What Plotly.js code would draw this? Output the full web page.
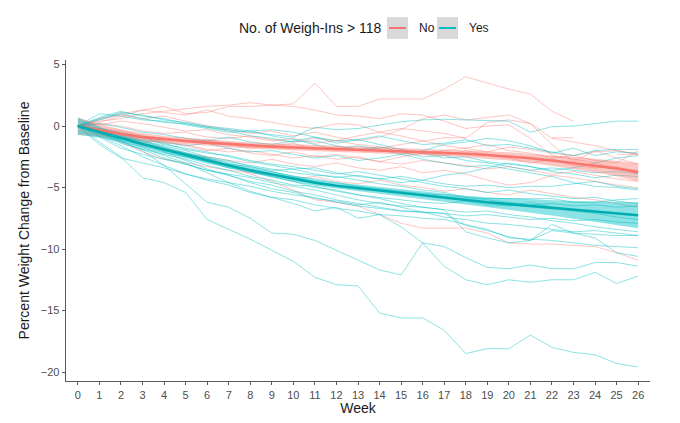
<!DOCTYPE html>
<html><head><meta charset="utf-8">
<script src="https://cdn.plot.ly/plotly-3.0.1.min.js"></script>
<style>html,body{margin:0;padding:0;background:#fff;}#chart{width:680px;height:423px;}</style>
</head><body><div id="chart"></div>
<script>
// ---- data ----
const weeks = [0,1,2,3,4,5,6,7,8,9,10,11,12,13,14,15,16,17,18,19,20,21,22,23,24,25,26];
const weekLabels = ["0","1","2","3","4","5","6","7","8","9","10","11","12","13","14","15","16","17","18","19","20","21","22","23","24","25","26"];

// participants with <= 118 weigh-ins ("No")
const no01 = [0,0.3,0.8,1.3,1.6,1.0,1.1,1.6,1.6,1.7,1.8,3.5,1.6,1.6,2.2,2.2,2.2,3.0,4.0,3.5,3.0,2.6,1.2,0.4,null,null,null];
const no02 = [0,0.4,0.6,1.0,1.2,1.4,1.6,1.7,1.9,1.7,1.6,1.3,0.9,0.8,0.6,1.0,0.9,0.4,-0.2,0.0,0.1,-1.0,-2.4,-2.7,-3.0,-3.4,-3.6];
const no03 = [0,0.5,0.9,0.6,0.8,0.4,0.0,-0.3,-0.6,-0.4,-0.8,-0.5,-0.9,-1.2,-0.9,-0.3,0.6,0.9,0.5,0.7,0.9,0.2,-1.0,-1.3,-1.6,-2.0,-2.3];
const no04 = [0,-0.2,-0.4,-0.8,-1.0,-1.3,-1.1,-1.5,-1.8,-1.6,-1.4,-1.9,-1.7,-2.0,-1.8,-1.5,-1.2,-0.95,-0.95,null,null,null,-0.95,-0.95,null,-2.3,-2.3];
const no05 = [0,-0.3,-0.8,-1.2,-1.8,-2.2,-2.6,-3.2,-3.9,-4.5,-5.2,-6.0,-6.2,-6.5,-7.2,-7.9,-8.3,-8.3,-8.3,-8.7,-9.5,-9.6,-9.6,-9.7,-9.8,-10.3,-10.9];
const no06 = [0,-0.5,-1.0,-1.6,-1.9,-2.3,-2.5,-2.8,-3.0,-2.7,-3.1,-3.3,-3.0,-3.4,-3.6,-3.3,-3.8,-3.6,-3.9,-4.4,-4.8,-4.6,-4.0,-4.2,-4.5,-4.8,-5.0];
const no07 = [0,0.2,0.0,-0.4,-0.6,-0.5,-0.9,-1.0,-0.8,-1.1,-1.3,-1.0,-1.2,-0.8,-0.5,-0.2,-0.4,-0.6,-1.0,0.3,0.5,0.2,-1.5,-2.9,-2.0,-2.6,-3.1];
const no08 = [0,-0.4,-0.9,-1.3,-1.2,-1.6,-2.0,-1.8,-2.2,-2.4,-2.1,-2.5,-2.3,-2.6,-2.9,-2.5,-2.2,-2.4,-2.0,-2.3,-2.6,-3.0,-2.7,-3.2,-3.4,-3.3,-3.8];
const no09 = [0,0.6,1.0,1.3,1.1,0.9,1.3,0.8,0.6,0.3,0.0,-0.2,0.2,0.1,-0.5,-0.8,-1.2,-1.6,-1.8,-1.5,-2.0,-2.2,-2.6,-2.4,-2.8,-3.0,-2.0];
const no10 = [0,-0.6,-1.3,-2.1,-2.7,-3.0,-3.3,-3.6,-3.8,-4.0,-4.3,-4.1,-4.5,-4.7,-4.4,-4.8,-5.0,-5.3,-5.1,-5.4,-5.6,-5.2,-5.5,-5.8,-6.0,-6.3,-6.6];
const no11 = [0,-0.2,-0.6,-0.9,-1.4,-1.5,-1.9,-2.1,-2.0,-2.3,-2.6,-2.4,-2.7,-2.5,-2.9,-3.1,-2.8,-3.0,-3.2,-3.5,-3.3,-3.6,-3.9,-3.7,-4.0,-4.3,-4.5];
const no12 = [0,0.1,0.4,0.2,-0.1,-0.4,-0.3,-0.7,-0.9,-1.2,-1.0,-1.4,-1.2,-1.5,-1.7,-1.9,-2.2,-2.0,-1.8,-2.1,-1.7,-1.9,-2.2,-2.4,-2.1,-2.0,-2.3];

// participants with > 118 weigh-ins ("Yes")
const yes01 = [0,-1.3,-2.5,-4.2,-4.6,-5.4,-7.6,-8.4,-9.2,-10.1,-11.0,-12.3,-12.9,-13.0,-15.2,-15.6,-15.6,-16.6,-18.5,-18.1,-18.1,-17.0,-18.0,-18.4,-18.6,-19.3,-19.6];
const yes02 = [0,-0.5,-1.2,-2.0,-3.2,-4.7,-6.2,-6.6,-7.5,-8.7,-8.8,-9.3,-10.1,-10.9,-11.7,-12.1,-9.5,-11.4,-12.5,-12.9,-12.5,-12.7,-12.5,-12.5,-11.9,-12.8,-12.2];
const yes03 = [0,-0.4,-1.0,-1.7,-2.4,-3.0,-3.8,-4.6,-5.3,-5.8,-6.3,-6.9,-6.6,-7.5,-7.2,-8.2,-9.5,-9.8,-10.7,-11.5,-11.6,-11.3,-11.6,-11.6,-11.1,-11.1,-11.4];
const yes04 = [0,0.5,1.0,0.6,0.3,0.2,-0.1,-0.3,-0.5,-0.7,-0.9,-0.1,-0.3,-0.2,0.1,0.35,0.5,0.55,0.5,0.45,0.4,-0.5,-0.05,0.0,0.2,0.4,0.4];
const yes05 = [0,-0.3,-0.9,-1.5,-2.0,-2.4,-2.9,-3.4,-3.7,-4.1,-4.5,-5.0,-5.2,-5.6,-5.9,-6.3,-6.6,-6.8,-8.6,-9.1,-9.5,-9.3,-8.0,-8.7,-9.1,-10.3,-10.6];
const yes06 = [0,-0.6,-1.3,-1.9,-2.6,-3.1,-3.6,-4.0,-4.5,-4.8,-5.3,-5.6,-6.0,-6.3,-6.6,-6.9,-7.0,-7.1,-8.1,-8.5,-9.0,-9.3,-8.5,-8.7,-8.8,-8.9,-8.9];
const yes07 = [0,-0.8,-1.6,-2.5,-3.2,-3.9,-4.4,-4.8,-5.4,-5.8,-6.0,-6.4,-6.7,-6.9,-7.2,-7.3,-7.5,-7.6,-8.0,-8.4,-9.1,-9.2,-9.3,-9.5,-9.7,-9.8,-9.9];
const yes08 = [0,-0.4,-0.9,-1.2,-1.6,-2.0,-2.5,-2.8,-3.3,-3.7,-4.1,-4.3,-4.6,-4.9,-5.1,-5.3,-5.5,-5.6,-5.8,-5.9,-5.9,-5.9,-5.9,-6.2,-6.2,-6.0,-5.9];
const yes09 = [0,-0.2,-0.6,-1.0,-1.5,-1.8,-2.1,-2.5,-2.9,-3.2,-3.5,-3.4,-3.8,-4.1,-4.3,-4.6,-4.4,-4.7,-4.9,-4.8,-5.0,-4.9,-4.9,-4.7,-4.5,-4.9,-5.1];
const yes10 = [0,0.2,-0.1,-0.5,-0.7,-1.0,-1.2,-0.9,-1.3,-1.5,-1.2,-0.9,-1.4,-1.1,-0.8,-1.2,-1.5,-1.4,-1.1,-1.6,-1.5,-1.8,-2.1,-2.4,-2.0,-1.9,-1.9];
const yes11 = [0,-0.3,-0.5,-0.9,-1.3,-1.6,-1.4,-1.8,-2.1,-2.0,-2.3,-2.6,-2.4,-2.8,-2.6,-2.3,-2.0,-1.5,-1.3,-1.0,-1.2,-1.6,-2.2,-1.8,-2.4,-2.1,-2.2];
const yes12 = [0,-0.5,-1.2,-1.8,-2.2,-2.5,-2.9,-3.1,-3.3,-3.6,-3.5,-3.9,-4.2,-4.0,-4.3,-4.1,-4.4,-4.0,-3.8,-3.4,-3.0,-3.3,-3.7,-3.9,-4.2,-4.0,-4.1];
const yes13 = [0,0.6,1.1,0.9,0.5,0.3,0.0,-0.2,-0.4,-0.3,-0.5,-0.9,-1.2,-1.1,-1.5,-1.9,-2.2,-2.6,-2.5,-2.9,-3.1,-3.3,-3.6,-3.4,-3.0,-2.6,-2.4];
const yes14 = [0,-0.7,-1.4,-1.9,-2.3,-2.7,-3.2,-3.6,-4.1,-4.4,-4.8,-4.9,-5.3,-5.6,-5.8,-6.0,-6.2,-6.3,-6.1,-6.4,-6.5,-6.2,-6.6,-6.9,-7.1,-7.4,-7.6];
const yes15 = [0,-0.5,-0.9,-1.4,-1.8,-2.2,-2.6,-2.9,-3.2,-3.5,-3.8,-4.0,-4.1,-4.4,-4.7,-4.9,-5.2,-5.4,-5.8,-6.0,-6.2,-6.4,-6.3,-6.5,-6.4,-6.6,-6.5];
const yes16 = [0,-1.5,-2.6,-3.0,-3.4,-3.9,-4.3,-4.6,-4.9,-5.3,-5.6,-5.8,-6.2,-6.5,-6.7,-6.9,-7.0,-7.1,-7.3,-7.2,-7.4,-7.6,-7.5,-7.7,-7.6,-7.8,-7.9];
const yes17 = [0,1.0,0.8,0.5,0.4,0.1,-0.2,-0.5,-0.4,-0.8,-1.1,-1.5,-1.9,-1.6,-1.9,-2.3,-2.7,-3.0,-3.3,-3.2,-3.5,-3.8,-4.1,-4.6,-4.9,-5.0,-5.2];
const yes18 = [0,-0.3,-0.7,-1.1,-1.4,-1.9,-2.2,-2.4,-2.8,-3.1,-3.3,-3.6,-3.9,-3.7,-4.0,-4.3,-4.6,-4.9,-5.1,-5.4,-5.2,-5.5,-5.7,-5.9,-5.8,-6.1,-6.3];
const yes19 = [0,-0.6,-1.1,-1.5,-2.1,-2.8,-3.5,-4.0,-4.6,-5.1,-5.4,-5.9,-6.1,-6.4,-6.2,-6.6,-7.0,-7.4,-7.6,-7.9,-8.0,-8.2,-8.4,-8.6,-8.5,-8.7,-8.9];
const yes20 = [0,0.7,1.2,0.8,0.6,0.2,-0.1,-0.4,-0.8,-1.0,-1.3,-1.2,-1.6,-1.9,-1.7,-2.1,-2.5,-2.4,-2.8,-3.0,-3.3,-3.6,-3.4,-3.6,-3.8,-3.7,-3.9];
const yes21 = [0,-0.9,-1.8,-2.3,-2.7,-3.1,-3.6,-3.9,-4.2,-4.6,-4.9,-5.2,-5.6,-6.0,-6.3,-6.5,-6.6,-6.8,-7.0,-6.9,-7.2,-7.4,-7.7,-7.9,-8.2,-8.4,-8.6];

// smoothed group trends and half-width of their confidence bands
const noSmooth  = [0,-0.35,-0.65,-0.9,-1.08,-1.22,-1.35,-1.47,-1.58,-1.67,-1.74,-1.8,-1.86,-1.92,-1.98,-2.04,-2.1,-2.17,-2.25,-2.35,-2.47,-2.62,-2.8,-3.0,-3.2,-3.45,-3.75];
const noBand    = [0.7,0.5,0.38,0.32,0.28,0.26,0.25,0.25,0.25,0.25,0.25,0.25,0.25,0.25,0.25,0.25,0.26,0.27,0.28,0.3,0.33,0.37,0.42,0.48,0.55,0.64,0.75];
const yesSmooth = [0,-0.5,-1.0,-1.45,-1.9,-2.35,-2.8,-3.2,-3.6,-3.95,-4.3,-4.6,-4.85,-5.05,-5.25,-5.45,-5.65,-5.85,-6.05,-6.2,-6.35,-6.5,-6.65,-6.8,-6.95,-7.1,-7.25];
const yesBand   = [0.7,0.45,0.32,0.27,0.25,0.24,0.24,0.24,0.24,0.24,0.25,0.25,0.26,0.27,0.28,0.3,0.32,0.35,0.38,0.42,0.47,0.54,0.62,0.71,0.81,0.93,1.05];

const groupNames = ["No", "Yes"];
const legendTitle = "No. of Weigh-Ins > 118";

const noLines = [no01,no02,no03,no04,no05,no06,no07,no08,no09,no10,no11,no12];
const yesLines = [yes01,yes02,yes03,yes04,yes05,yes06,yes07,yes08,yes09,yes10,yes11,yes12,yes13,yes14,yes15,yes16,yes17,yes18,yes19,yes20,yes21];

// ---- styles ----
const RED = "#F8766D", TEAL = "#00BFC4", TEAL_LINE = "#00AEB2";
const traces = [];
function indiv(y, col, grp) {
  return {x: weeks, y: y, type: "scatter", mode: "lines", showlegend: false, hoverinfo: "skip",
          legendgroup: grp, connectgaps: false, line: {color: col, width: 1}};
}
noLines.forEach(y => traces.push(indiv(y, "rgba(248,118,109,0.42)", groupNames[0])));
yesLines.forEach(y => traces.push(indiv(y, "rgba(0,191,196,0.45)", groupNames[1])));

function band(mid, half, col) {
  const up = mid.map((v, i) => v + half[i]);
  const lo = mid.map((v, i) => v - half[i]);
  return {x: weeks.concat(weeks.slice().reverse()), y: up.concat(lo.slice().reverse()),
          type: "scatter", mode: "lines", fill: "toself", fillcolor: col,
          line: {width: 0, color: "rgba(0,0,0,0)"}, showlegend: false, hoverinfo: "skip"};
}
traces.push(band(noSmooth, noBand, "rgba(248,118,109,0.42)"));
traces.push(band(yesSmooth, yesBand, "rgba(0,191,196,0.45)"));
traces.push({x: weeks, y: noSmooth, type: "scatter", mode: "lines", name: groupNames[0],
             showlegend: false, line: {color: RED, width: 2.6}});
traces.push({x: weeks, y: yesSmooth, type: "scatter", mode: "lines", name: groupNames[1],
             showlegend: false, line: {color: TEAL_LINE, width: 2.6}});

// ggplot-style legend at the top (pixel positions converted to paper coords)
const L = 66, R = 650, T = 60, B = 381;
const px = v => (v - L) / (R - L);
const py = v => (B - v) / (B - T);
const keyMidY = 28;
const keys = [
  {box: [387, 408], text: 417, color: RED, label: groupNames[0]},
  {box: [437, 458], text: 467, color: TEAL, label: groupNames[1]}
];
const shapes = [], annotations = [];
annotations.push({xref: "paper", yref: "paper", x: px(237), y: py(keyMidY), xanchor: "left", yanchor: "middle",
                  text: legendTitle, showarrow: false, font: {size: 14, color: "#1a1a1a"}});
keys.forEach(k => {
  shapes.push({type: "rect", xref: "paper", yref: "paper", x0: px(k.box[0]), x1: px(k.box[1]),
               y0: py(keyMidY + 11), y1: py(keyMidY - 11), fillcolor: "#D9D9D9", line: {width: 0}, layer: "above"});
  shapes.push({type: "line", xref: "paper", yref: "paper", x0: px(k.box[0] + 2), x1: px(k.box[1] - 2),
               y0: py(keyMidY), y1: py(keyMidY), line: {color: k.color, width: 2}, layer: "above"});
  annotations.push({xref: "paper", yref: "paper", x: px(k.text), y: py(keyMidY), xanchor: "left", yanchor: "middle",
                    text: k.label, showarrow: false, font: {size: 12, color: "#1a1a1a"}});
});

const AX = "#5a5a5a";
const layout = {
  width: 680, height: 423,
  margin: {l: L, r: 680 - R, t: T, b: 423 - B},
  paper_bgcolor: "#fff", plot_bgcolor: "#fff",
  font: {family: "Liberation Sans, Arial, sans-serif", color: "#1a1a1a"},
  showlegend: false,
  xaxis: {range: [-0.55, 26.55], tickmode: "array", tickvals: weeks, ticktext: weekLabels,
          showgrid: false, zeroline: false, showline: true, linecolor: AX, linewidth: 1.3,
          ticks: "outside", ticklen: 3, tickcolor: AX, tickwidth: 1,
          tickfont: {size: 11, color: "#4d4d4d"},
          title: {text: "Week", font: {size: 14, color: "#1a1a1a"}, standoff: 3}},
  yaxis: {range: [-20.73, 5.37], tickmode: "linear", tick0: -20, dtick: 5,
          showgrid: false, zeroline: false, showline: true, linecolor: AX, linewidth: 1.3,
          ticks: "outside", ticklen: 3, tickcolor: AX, tickwidth: 1,
          tickfont: {size: 11, color: "#4d4d4d"},
          title: {text: "Percent Weight Change from Baseline", font: {size: 14, color: "#1a1a1a"}, standoff: 8}},
  shapes: shapes,
  annotations: annotations
};
Plotly.newPlot("chart", traces, layout, {staticPlot: true, displayModeBar: false});
</script></body></html>
